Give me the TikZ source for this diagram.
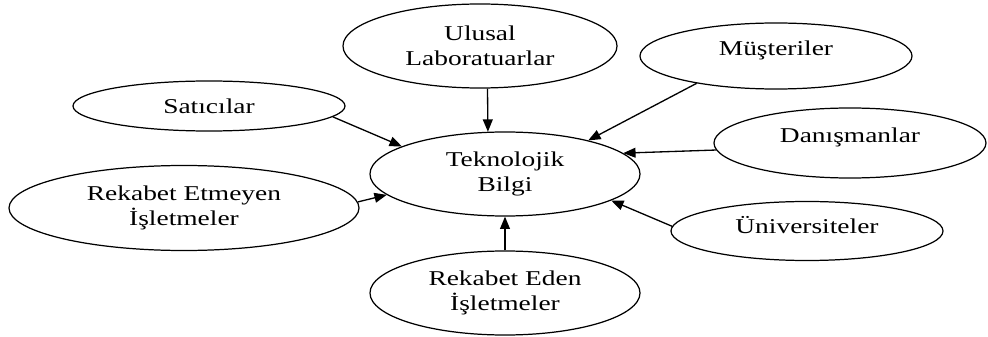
\documentclass[tikz,border=0pt]{standalone}
\usepackage{fontspec}
\setmainfont[FakeStretch=1.3]{Liberation Serif}
\usepackage{tikz}
\usetikzlibrary{shapes.geometric, arrows.meta}

\begin{document}
\begin{tikzpicture}[
    source/.style={draw, ellipse, line width=0.7pt, inner sep=0pt, align=center,
      font=\fontsize{12}{14.2}\selectfont, minimum width=5.44cm},
    feed/.style={line width=0.75pt, -{Triangle[length=7pt, width=5.6pt]}}
  ]
  \useasboundingbox (0, 0) rectangle (19.76, 6.72);

  % Centre
  \node[source, minimum width=5.4cm, minimum height=1.68cm] (bilgi) at (10.10, 3.24) {Teknolojik\\Bilgi};

  % Sources of knowledge
  \node[source, minimum width=5.48cm, minimum height=1.68cm] (ulusal) at (9.60, 5.80) {Ulusal\\Laboratuarlar};
  \node[source, minimum height=1.0cm] (satici) at (4.18, 4.60) {Satıcılar};
  \node[source, minimum width=7.0cm, minimum height=1.7cm] (etmeyen) at (3.68, 2.56) {Rekabet Etmeyen\\İşletmeler};
  \node[source, minimum width=5.4cm, minimum height=1.68cm] (eden) at (10.10, 0.86) {Rekabet Eden\\İşletmeler};
  \node[source, minimum height=1.32cm, text depth=9pt] (musteri) at (15.52, 5.60) {Müşteriler};
  \node[source, minimum height=1.40cm, text depth=9pt] (danisman) at (17.00, 3.86) {Danışmanlar};
  \node[source, minimum height=1.18cm, text depth=6.5pt] (univ) at (16.14, 2.10) {Üniversiteler};

  % Arrows into the centre
  \draw[feed] (ulusal.-80) -- (bilgi.112);
  \draw[feed] (satici.-5) -- (bilgi.165);
  \draw[feed] (etmeyen.2) -- (bilgi.190);
  \draw[feed] (eden.north) -- (bilgi.south);
  \draw[feed] (musteri.199) -- (bilgi.22);
  \draw[feed] (danisman.183) -- (bilgi.10);
  \draw[feed] (univ.178) -- (bilgi.-14);
\end{tikzpicture}
\end{document}
